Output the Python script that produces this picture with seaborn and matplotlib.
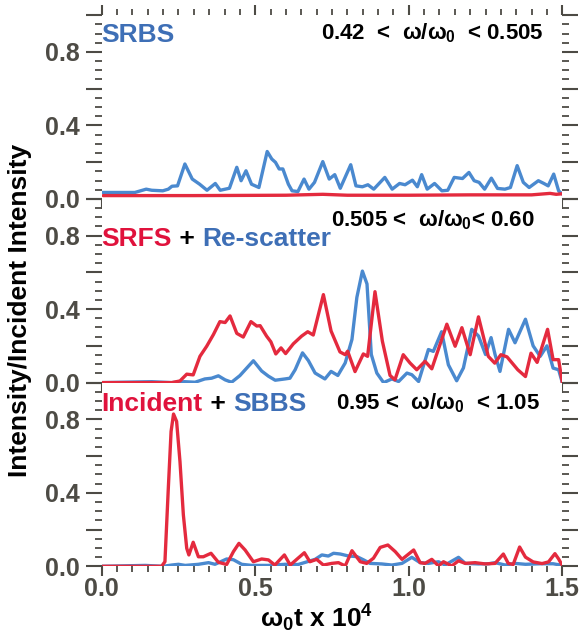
import matplotlib
matplotlib.use("Agg")
import matplotlib.pyplot as plt
from matplotlib.ticker import MultipleLocator, FuncFormatter
import seaborn as sns

# 数据：从图中读取 (x 单位为 ω0t x 10^4)
srbs_x = [0.0, 0.108, 0.145, 0.163, 0.199, 0.217, 0.229, 0.247, 0.271, 0.295, 0.319, 0.343, 0.37, 0.386,
          0.416, 0.44, 0.454, 0.47, 0.488, 0.512, 0.539, 0.554, 0.566, 0.578, 0.59, 0.608, 0.62, 0.639,
          0.659, 0.675, 0.693, 0.72, 0.741, 0.759, 0.777, 0.811, 0.828, 0.849, 0.867, 0.886, 0.922, 0.946,
          0.97, 0.988, 1.012, 1.028, 1.042, 1.06, 1.084, 1.108, 1.127, 1.148, 1.175, 1.196, 1.213, 1.229,
          1.247, 1.269, 1.289, 1.313, 1.331, 1.353, 1.373, 1.392, 1.422, 1.44, 1.454, 1.472, 1.488, 1.5]
srbs_y = [0.035, 0.035, 0.053, 0.047, 0.044, 0.053, 0.069, 0.071, 0.19, 0.108, 0.08, 0.047, 0.084, 0.047,
          0.058, 0.172, 0.099, 0.153, 0.08, 0.062, 0.258, 0.217, 0.199, 0.163, 0.163, 0.08, 0.044, 0.04,
          0.108, 0.053, 0.09, 0.203, 0.108, 0.132, 0.058, 0.186, 0.071, 0.066, 0.077, 0.053, 0.117, 0.053,
          0.084, 0.077, 0.102, 0.066, 0.132, 0.053, 0.084, 0.044, 0.047, 0.117, 0.111, 0.144, 0.099, 0.09,
          0.053, 0.113, 0.057, 0.053, 0.062, 0.181, 0.09, 0.062, 0.099, 0.084, 0.071, 0.135, 0.044, 0.026]
srbs_red_x = [0.005, 0.3, 0.6, 0.72, 0.8, 1.0, 1.2, 1.4, 1.46, 1.48, 1.5]
srbs_red_y = [0.018, 0.018, 0.02, 0.025, 0.02, 0.02, 0.022, 0.022, 0.03, 0.025, 0.028]

srfs_x = [0.0, 0.228, 0.255, 0.277, 0.298, 0.32, 0.342, 0.364, 0.385, 0.402, 0.418, 0.44, 0.461, 0.486,
          0.505, 0.516, 0.537, 0.551, 0.567, 0.584, 0.599, 0.624, 0.651, 0.671, 0.689, 0.722, 0.747, 0.776,
          0.793, 0.801, 0.825, 0.852, 0.866, 0.89, 0.914, 0.939, 0.955, 0.982, 1.004, 1.026, 1.053, 1.075,
          1.124, 1.151, 1.173, 1.2, 1.227, 1.259, 1.28, 1.3, 1.32, 1.355, 1.38, 1.398, 1.418, 1.452, 1.47,
          1.488, 1.5]
srfs_y = [0.0, 0.0, 0.009, 0.046, 0.042, 0.143, 0.198, 0.262, 0.332, 0.327, 0.363, 0.268, 0.248, 0.332,
          0.308, 0.31, 0.253, 0.222, 0.156, 0.189, 0.158, 0.211, 0.253, 0.277, 0.259, 0.479, 0.281, 0.167,
          0.152, 0.171, 0.06, 0.156, 0.143, 0.495, 0.226, 0.039, 0.015, 0.152, 0.107, 0.07, 0.116, 0.075,
          0.318, 0.198, 0.299, 0.152, 0.358, 0.143, 0.106, 0.152, 0.14, 0.07, 0.033, 0.16, 0.11, 0.29, 0.125,
          0.125, 0.0]
rescat_x = [0.0, 0.163, 0.228, 0.27, 0.304, 0.336, 0.358, 0.38, 0.402, 0.423, 0.45, 0.494, 0.521, 0.543,
            0.565, 0.597, 0.613, 0.63, 0.654, 0.673, 0.695, 0.727, 0.747, 0.769, 0.793, 0.815, 0.831, 0.849,
            0.864, 0.878, 0.896, 0.918, 0.945, 0.967, 0.994, 1.01, 1.032, 1.064, 1.08, 1.107, 1.129, 1.156,
            1.178, 1.205, 1.227, 1.25, 1.268, 1.281, 1.297, 1.325, 1.346, 1.38, 1.405, 1.428, 1.45, 1.47,
            1.488, 1.5]
rescat_y = [0.0, 0.005, 0.0, 0.005, 0.002, 0.02, 0.024, 0.037, 0.015, 0.002, 0.038, 0.119, 0.063, 0.035,
            0.013, 0.02, 0.024, 0.07, 0.162, 0.12, 0.052, 0.02, 0.061, 0.039, 0.107, 0.235, 0.464, 0.607,
            0.537, 0.153, 0.052, 0.0, 0.02, 0.006, 0.052, 0.043, 0.006, 0.18, 0.17, 0.277, 0.097, 0.01,
            0.08, 0.29, 0.254, 0.153, 0.245, 0.153, 0.061, 0.29, 0.217, 0.345, 0.2, 0.143, 0.2, 0.079,
            0.07, 0.0]

inc_x = [0.0, 0.195, 0.206, 0.217, 0.226, 0.234, 0.244, 0.255, 0.266, 0.277, 0.284, 0.298, 0.315, 0.331,
         0.356, 0.38, 0.407, 0.429, 0.447, 0.467, 0.494, 0.521, 0.543, 0.564, 0.595, 0.614, 0.64, 0.66,
         0.678, 0.7, 0.722, 0.749, 0.771, 0.793, 0.815, 0.842, 0.863, 0.885, 0.907, 0.932, 0.956, 0.978,
         1.016, 1.037, 1.053, 1.075, 1.097, 1.113, 1.14, 1.162, 1.184, 1.216, 1.249, 1.281, 1.308, 1.324,
         1.34, 1.361, 1.38, 1.405, 1.434, 1.455, 1.476, 1.488, 1.5]
inc_y = [0.0, 0.0, 0.025, 0.425, 0.734, 0.829, 0.789, 0.57, 0.28, 0.098, 0.062, 0.131, 0.052, 0.052,
         0.071, 0.022, 0.01, 0.08, 0.125, 0.089, 0.025, 0.04, 0.035, 0.007, 0.062, 0.007, 0.045, 0.074,
         0.025, 0.038, 0.007, 0.016, 0.02, 0.002, 0.085, 0.025, 0.016, 0.044, 0.103, 0.116, 0.08, 0.038,
         0.089, 0.02, 0.016, 0.038, 0.002, 0.025, 0.002, 0.03, 0.016, 0.02, 0.013, 0.016, 0.067, 0.016,
         0.01, 0.105, 0.05, 0.024, 0.015, 0.024, 0.069, 0.04, 0.005]
sbbs_x = [0.0, 0.142, 0.2, 0.228, 0.25, 0.272, 0.315, 0.348, 0.369, 0.407, 0.429, 0.456, 0.489, 0.543,
          0.597, 0.64, 0.695, 0.717, 0.738, 0.755, 0.777, 0.804, 0.831, 0.853, 0.874, 0.912, 0.945, 0.978,
          1.01, 1.037, 1.064, 1.097, 1.118, 1.162, 1.184, 1.227, 1.26, 1.281, 1.314, 1.346, 1.38, 1.43,
          1.47, 1.5]
sbbs_y = [0.0, 0.005, 0.0, 0.007, 0.011, 0.005, 0.011, 0.02, 0.011, 0.04, 0.036, 0.011, 0.005, 0.005,
          0.011, 0.01, 0.038, 0.062, 0.056, 0.071, 0.067, 0.056, 0.053, 0.035, 0.016, 0.013, 0.007, 0.016,
          0.049, 0.02, 0.016, 0.025, 0.007, 0.049, 0.016, 0.013, 0.014, 0.02, 0.007, 0.016, 0.011, 0.014,
          0.014, 0.005]

BLUE = "#4a89cf"
RED = "#e42a3e"
TBLUE = "#3e6fb6"
TRED = "#e0123c"
GRAY = "#4d4b45"

sns.set_style("white")
plt.rcParams['font.family'] = ['Liberation Sans', 'DejaVu Sans']
plt.rcParams['font.weight'] = 'bold'
plt.rcParams['mathtext.fontset'] = 'custom'
plt.rcParams['mathtext.rm'] = 'Liberation Sans:bold'
plt.rcParams['mathtext.it'] = 'Liberation Sans:bold'
plt.rcParams['mathtext.bf'] = 'Liberation Sans:bold'

fig = plt.figure(figsize=(5.8, 6.41), dpi=100)
L, W, H = 0.1753, 0.7942, 0.2866
bottoms = [0.1165 + 2 * H, 0.1165 + H, 0.1165]
axes = [fig.add_axes([L, b, W, H]) for b in bottoms]

panels = [
    (srbs_x, srbs_y, srbs_red_x, srbs_red_y),
    (rescat_x, rescat_y, srfs_x, srfs_y),
    (sbbs_x, sbbs_y, inc_x, inc_y),
]

for i, (ax, (bx, by, rx, ry)) in enumerate(zip(axes, panels)):
    sns.lineplot(x=bx, y=by, color=BLUE, lw=2.4, ax=ax, estimator=None,
                 solid_joinstyle='round', solid_capstyle='round')
    sns.lineplot(x=rx, y=ry, color=RED, lw=2.4, ax=ax, estimator=None,
                 solid_joinstyle='round', solid_capstyle='round')
    ax.set_xlim(0, 1.5)
    ax.set_ylim(0, 1.0)
    for s in ax.spines.values():
        s.set_visible(False)
    ax.yaxis.set_major_locator(MultipleLocator(0.2))
    ax.yaxis.set_minor_locator(MultipleLocator(0.05))
    ax.yaxis.set_major_formatter(FuncFormatter(
        lambda v, p: f"{v:.1f}" if round(v * 10) % 4 == 0 and v < 0.95 else ""))
    ax.xaxis.set_major_locator(MultipleLocator(0.5))
    ax.xaxis.set_minor_locator(MultipleLocator(0.05))
    ax.tick_params(axis='y', which='major', direction='out', length=11.5, width=1.5,
                   color=GRAY, left=True, right=True, labelsize=18, labelcolor=GRAY, pad=4)
    ax.tick_params(axis='y', which='minor', direction='out', length=5, width=1.3,
                   color=GRAY, left=True, right=True)
    ax.tick_params(axis='x', which='major', direction='out', length=7, width=1.5,
                   color=GRAY, bottom=True, top=(i == 0), labelsize=18, labelcolor=GRAY, pad=1)
    ax.tick_params(axis='x', which='minor', direction='out', length=4, width=1.3,
                   color=GRAY, bottom=True, top=(i == 0))
    if i < 2:
        ax.tick_params(axis='x', labelbottom=False)
    for lab in ax.get_xticklabels() + ax.get_yticklabels():
        lab.set_fontweight('bold')
    ax.set_xlabel("")
    ax.set_ylabel("")

fig.canvas.draw()
renderer = fig.canvas.get_renderer()


def colored_text(ax, x, y, parts, size=19):
    # 依次放置不同颜色的文字片段
    trans = ax.transAxes
    for txt, col in parts:
        t = ax.text(x, y, txt, color=col, fontsize=size, fontweight='bold',
                    transform=trans, va='baseline', ha='left')
        bb = t.get_window_extent(renderer=renderer)
        x = ax.transAxes.inverted().transform((bb.x1, bb.y0))[0]


colored_text(axes[0], 0.0, 0.855, [("SRBS", TBLUE)])
colored_text(axes[1], 0.0, 0.745, [("SRFS", TRED), (" + ", "black"), ("Re-scatter", TBLUE)])
colored_text(axes[2], 0.0, 0.845, [("Incident", TRED), (" + ", "black"), ("SBBS", TBLUE)])

axes[0].text(0.96, 0.866, r"0.42  <  $ω/ω_0$  < 0.505", transform=axes[0].transAxes,
             ha='right', va='baseline', fontsize=16, fontweight='bold', color='black')
axes[1].text(0.94, 0.848, r"0.505 <  $ω/ω_0$< 0.60", transform=axes[1].transAxes,
             ha='right', va='baseline', fontsize=16, fontweight='bold', color='black')
axes[2].text(0.952, 0.856, r"0.95 <  $ω/ω_0$  < 1.05", transform=axes[2].transAxes,
             ha='right', va='baseline', fontsize=16, fontweight='bold', color='black')

fig.text(0.034, 0.516, "Intensity/Incident Intensity", rotation=90, ha='center', va='center',
         fontsize=19, fontweight='bold', color='black')
fig.text(0.545, 0.035, r"$ω_0$t x 10$^4$", ha='center', va='center',
         fontsize=19, fontweight='bold', color='black')

fig.savefig("out.png", dpi=100)
